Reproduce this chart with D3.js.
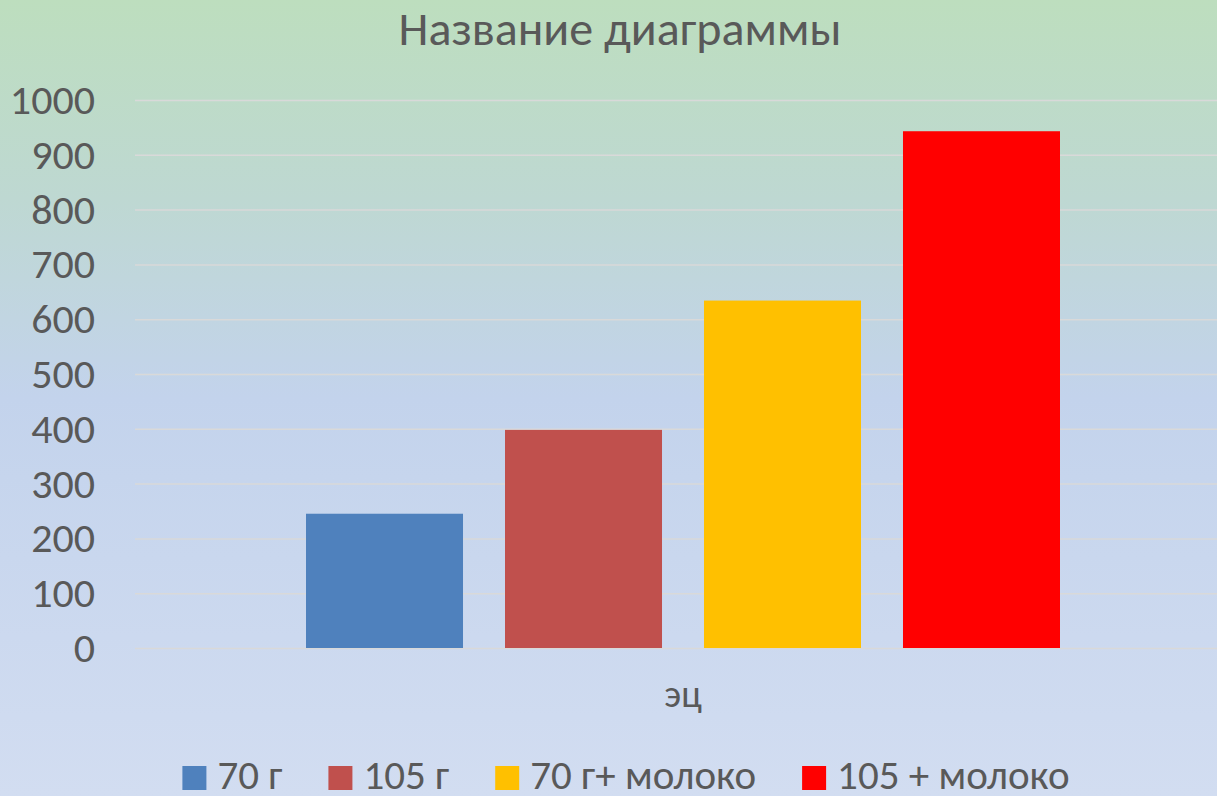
<!DOCTYPE html>
<html>
<head>
<meta charset="utf-8">
<script src="https://cdn.jsdelivr.net/npm/d3@7"></script>
<style>
  body { margin: 0; }
  svg { display: block; }
  text { font-family: Calibri, Carlito, 'Open Sans', sans-serif; fill: #595959; }
</style>
</head>
<body>
<svg id="chart" width="1217" height="796"></svg>
<script>
// данные
const categories = ['эц'];
const seriesNames = ['70 г', '105 г', '70 г+ молоко', '105 + молоко'];
const seriesValues = [245, 398, 634, 943];
const seriesColors = ['#4F81BD', '#C0504D', '#FFC000', '#FF0000'];
const yTicks = [0, 100, 200, 300, 400, 500, 600, 700, 800, 900, 1000];

const W = 1217, H = 796;
const plotLeft = 135, plotRight = 1231, plotTop = 100, plotBottom = 648;
const fontStack = "Calibri, Carlito, 'Open Sans', sans-serif";

const svg = d3.select('#chart');

// фон с градиентом
const grad = svg.append('defs').append('linearGradient')
  .attr('id', 'bg').attr('x1', 0).attr('y1', 0).attr('x2', 0).attr('y2', 1);
grad.append('stop').attr('offset', '0%').attr('stop-color', '#BDDEBE');
grad.append('stop').attr('offset', '25%').attr('stop-color', '#BED8D2');
grad.append('stop').attr('offset', '50%').attr('stop-color', '#C3D3EC');
grad.append('stop').attr('offset', '100%').attr('stop-color', '#D2DDF1');
svg.append('rect').attr('width', W).attr('height', H).attr('fill', 'url(#bg)');

const y = d3.scaleLinear().domain([0, 1000]).range([plotBottom, plotTop]);

const x0 = d3.scaleBand()
  .domain(categories)
  .range([plotLeft, plotRight])
  .paddingInner(0)
  .paddingOuter(0.2268);

const x1 = d3.scaleBand()
  .domain(seriesNames)
  .range([0, x0.bandwidth()])
  .paddingInner(0.211)
  .paddingOuter(0);

// сетка
svg.append('g')
  .attr('transform', `translate(${plotLeft},0)`)
  .call(d3.axisLeft(y).tickValues(yTicks).tickSize(-(W - plotLeft)).tickFormat(''))
  .call(g => g.select('.domain').remove())
  .call(g => g.selectAll('line').attr('stroke', '#D9D9D9').attr('stroke-width', 1.5));

// подписи оси Y
svg.append('g')
  .attr('transform', `translate(95,0)`)
  .call(d3.axisLeft(y).tickValues(yTicks).tickSize(0).tickPadding(0).tickFormat(d3.format('d')))
  .call(g => g.select('.domain').remove())
  .call(g => g.selectAll('text')
    .attr('font-size', 42)
    .attr('fill', '#595959')
    .attr('font-family', fontStack));

// столбцы
const groups = svg.selectAll('.cat')
  .data(categories)
  .enter()
  .append('g')
  .attr('class', 'cat')
  .attr('transform', d => `translate(${x0(d)},0)`);

groups.selectAll('rect')
  .data(() => seriesNames.map((s, i) => ({ name: s, value: seriesValues[i], color: seriesColors[i] })))
  .enter()
  .append('rect')
  .attr('x', d => x1(d.name))
  .attr('y', d => y(d.value))
  .attr('width', x1.bandwidth())
  .attr('height', d => y(0) - y(d.value))
  .attr('fill', d => d.color);

// подпись категории
svg.append('g')
  .attr('transform', `translate(0,${plotBottom})`)
  .call(d3.axisBottom(x0).tickSize(0).tickPadding(0))
  .call(g => g.select('.domain').remove())
  .call(g => g.selectAll('text')
    .attr('dy', null)
    .attr('y', 59)
    .attr('font-size', 38)
    .attr('fill', '#595959')
    .attr('font-family', fontStack));

// заголовок
svg.append('text')
  .attr('x', 620)
  .attr('y', 45)
  .attr('text-anchor', 'middle')
  .attr('font-size', 48)
  .text('Название диаграммы');

// легенда
const legend = svg.append('g');
const items = legend.selectAll('g')
  .data(seriesNames)
  .enter()
  .append('g');
items.append('rect')
  .attr('y', 766)
  .attr('width', 24)
  .attr('height', 24)
  .attr('fill', (d, i) => seriesColors[i]);
items.append('text')
  .attr('x', 35)
  .attr('y', 789)
  .attr('font-size', 41)
  .text(d => d);

const widths = items.nodes().map(n => 35 + d3.select(n).select('text').node().getComputedTextLength());
const gap = 46;
const total = d3.sum(widths) + gap * (widths.length - 1);
let pos = 626 - total / 2;
items.each(function (d, i) {
  d3.select(this).attr('transform', `translate(${pos},0)`);
  pos += widths[i] + gap;
});
</script>
</body>
</html>
